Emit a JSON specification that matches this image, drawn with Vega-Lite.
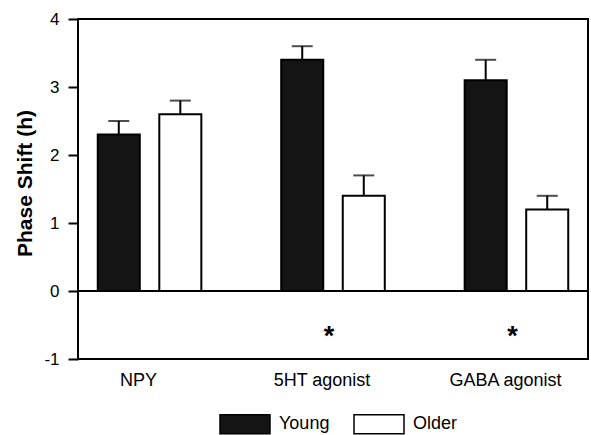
{
  "$schema": "https://vega.github.io/schema/vega-lite/v6.json",
  "autosize": {"type": "none"},
  "width": 510,
  "height": 340,
  "padding": {"left": 78, "top": 19, "right": 3, "bottom": 76},
  "background": "white",
  "config": {
    "font": "Liberation Sans",
    "view": {"stroke": "black", "strokeWidth": 2},
    "axis": {"labelColor": "black", "titleColor": "black", "tickColor": "black", "grid": false, "domain": false}
  },
  "datasets": {
    "bars": [
      {"treatment": "NPY", "group": "Young", "shift": 2.3, "upper": 2.5},
      {"treatment": "NPY", "group": "Older", "shift": 2.6, "upper": 2.8},
      {"treatment": "5HT agonist", "group": "Young", "shift": 3.4, "upper": 3.6},
      {"treatment": "5HT agonist", "group": "Older", "shift": 1.4, "upper": 1.7},
      {"treatment": "GABA agonist", "group": "Young", "shift": 3.1, "upper": 3.4},
      {"treatment": "GABA agonist", "group": "Older", "shift": 1.2, "upper": 1.4}
    ],
    "stars": [
      {"treatment": "5HT agonist", "y": -0.58, "label": "*"},
      {"treatment": "GABA agonist", "y": -0.58, "label": "*"}
    ]
  },
  "layer": [
    {
      "data": {"name": "bars"},
      "mark": {"type": "bar", "stroke": "black", "strokeWidth": 2},
      "encoding": {
        "x": {
          "field": "treatment", "type": "nominal",
          "sort": ["NPY", "5HT agonist", "GABA agonist"],
          "scale": {"paddingInner": 0.22, "paddingOuter": 0},
          "axis": {"title": null, "labelAngle": 0, "labelFontSize": 18, "ticks": false, "tickSize": 0, "labelPadding": 12, "labelOffset": -11}
        },
        "xOffset": {
          "field": "group", "type": "nominal",
          "sort": ["Young", "Older"],
          "scale": {"paddingInner": 0.317, "paddingOuter": 0.321}
        },
        "y": {
          "field": "shift", "type": "quantitative",
          "scale": {"domain": [-1, 4], "nice": false, "zero": false},
          "axis": {
            "title": "Phase Shift (h)", "values": [-1, 0, 1, 2, 3, 4], "labelExpr": "'' + datum.value",
            "labelFontSize": 17, "tickSize": 10, "tickWidth": 2, "labelPadding": 9,
            "titleFontSize": 21, "titleFontWeight": "bold",
            "titleAngle": 270, "titleX": -53, "titleY": 164, "titleAlign": "center", "titleBaseline": "middle"
          }
        },
        "y2": {"datum": 0},
        "fill": {
          "field": "group", "type": "nominal",
          "sort": ["Young", "Older"],
          "scale": {"domain": ["Young", "Older"], "range": ["#141414", "#ffffff"]},
          "legend": {
            "title": null, "orient": "none", "direction": "horizontal",
            "legendX": 141, "legendY": 379,
            "symbolType": "M-1,-0.38H1V0.38H-1Z", "symbolSize": 2500,
            "symbolStrokeColor": "black", "symbolStrokeWidth": 1.5,
            "labelFontSize": 18, "labelColor": "black", "labelOffset": 8, "columnPadding": 21
          }
        }
      }
    },
    {
      "data": {"name": "bars"},
      "mark": {"type": "rule", "stroke": "black", "strokeWidth": 2},
      "encoding": {
        "x": {"field": "treatment", "type": "nominal", "sort": ["NPY", "5HT agonist", "GABA agonist"]},
        "xOffset": {"field": "group", "type": "nominal", "sort": ["Young", "Older"]},
        "y": {"field": "shift", "type": "quantitative"},
        "y2": {"field": "upper"}
      }
    },
    {
      "data": {"name": "bars"},
      "mark": {"type": "tick", "color": "black", "thickness": 2, "size": 21, "orient": "horizontal"},
      "encoding": {
        "x": {"field": "treatment", "type": "nominal", "sort": ["NPY", "5HT agonist", "GABA agonist"]},
        "xOffset": {"field": "group", "type": "nominal", "sort": ["Young", "Older"]},
        "y": {"field": "upper", "type": "quantitative"}
      }
    },
    {
      "data": {"values": [{"zero": 0}]},
      "mark": {"type": "rule", "stroke": "black", "strokeWidth": 2},
      "encoding": {"y": {"field": "zero", "type": "quantitative"}}
    },
    {
      "data": {"name": "stars"},
      "mark": {"type": "text", "fontSize": 27, "fontWeight": "bold", "color": "black", "dy": 7, "dx": -4},
      "encoding": {
        "x": {"field": "treatment", "type": "nominal", "sort": ["NPY", "5HT agonist", "GABA agonist"]},
        "y": {"field": "y", "type": "quantitative"},
        "text": {"field": "label"}
      }
    }
  ]
}
